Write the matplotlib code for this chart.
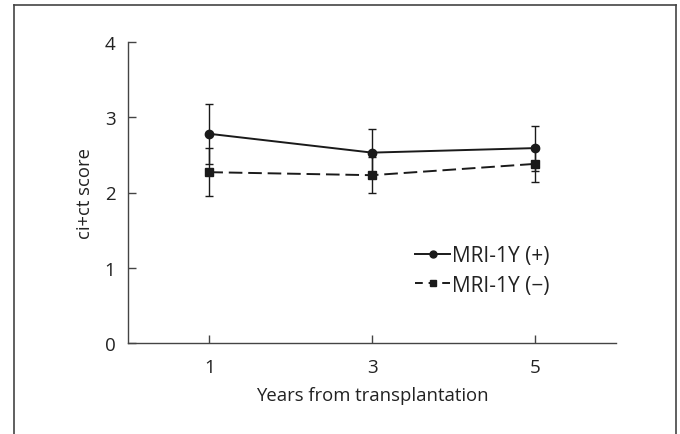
"""
ci+ct score over time by MRI-1Y group, line chart with error bars.
"""

import matplotlib
matplotlib.use("Agg")
import matplotlib.pyplot as plt
from matplotlib.lines import Line2D

# data
years = ["1", "3", "5"]
mri_pos = [2.78, 2.53, 2.59]
mri_pos_err = [0.40, 0.32, 0.30]
mri_neg = [2.27, 2.23, 2.38]
mri_neg_err = [0.32, 0.24, 0.24]
y_ticks = [0, 1, 2, 3, 4]

plt.rcParams["font.family"] = ["Open Sans", "DejaVu Sans"]

fig = plt.figure(figsize=(6.8, 4.35), dpi=100)
ax = fig.add_axes([128 / 680, 1 - 344 / 435, (616 - 128) / 680, (344 - 43) / 435])

pos = list(range(len(years)))
ax.errorbar(pos, mri_pos, yerr=mri_pos_err, color="#1a1a1a", lw=1.4,
            marker="o", ms=6, capsize=3, elinewidth=1.0, capthick=1.0,
            label="MRI-1Y (+)")
ax.errorbar(pos, mri_neg, yerr=mri_neg_err, color="#1a1a1a", lw=1.4,
            ls=(0, (7, 3)), marker="s", ms=6, capsize=3, elinewidth=1.0,
            capthick=1.0, label="MRI-1Y (\u2212)")

ax.set_xlim(-0.5, 2.5)
ax.set_ylim(0, 4)
ax.set_xticks(pos)
ax.set_xticklabels(years)
ax.set_yticks(y_ticks)

for side in ["top", "right"]:
    ax.spines[side].set_visible(False)
for side in ["left", "bottom"]:
    ax.spines[side].set_color("#444444")
    ax.spines[side].set_linewidth(1.0)
ax.tick_params(direction="in", length=6, width=1.0, color="#444444",
               labelsize=13.5, labelcolor="#222222")
ax.tick_params(axis="x", pad=11)
ax.tick_params(axis="y", pad=9)

ax.set_xlabel("Years from transplantation", fontsize=13.3, color="#222222", labelpad=7)
ax.set_ylabel("ci+ct score", fontsize=13.3, color="#222222", labelpad=8)

handles = [
    Line2D([], [], color="#1a1a1a", lw=1.4, marker="o", ms=5),
    Line2D([], [], color="#1a1a1a", lw=1.4, ls=(0, (4, 3)), marker="s", ms=5),
]
ax.legend(handles, ["MRI-1Y (+)", "MRI-1Y (\u2212)"], loc="center left",
          bbox_to_anchor=(0.588, 0.241), frameon=False, fontsize=15,
          handlelength=1.7, handletextpad=0.1, labelspacing=0.4,
          borderpad=0, borderaxespad=0, labelcolor="#222222")

# outer frame, open at the bottom
fc = "#444444"
fig.add_artist(Line2D([14 / 680, 14 / 680], [0, 1 - 6 / 435], transform=fig.transFigure, color=fc, lw=1.2))
fig.add_artist(Line2D([14 / 680, 676 / 680], [1 - 6 / 435, 1 - 6 / 435], transform=fig.transFigure, color=fc, lw=1.2))
fig.add_artist(Line2D([676 / 680, 676 / 680], [0, 1 - 6 / 435], transform=fig.transFigure, color=fc, lw=1.2))

fig.savefig("out.png", dpi=100)
